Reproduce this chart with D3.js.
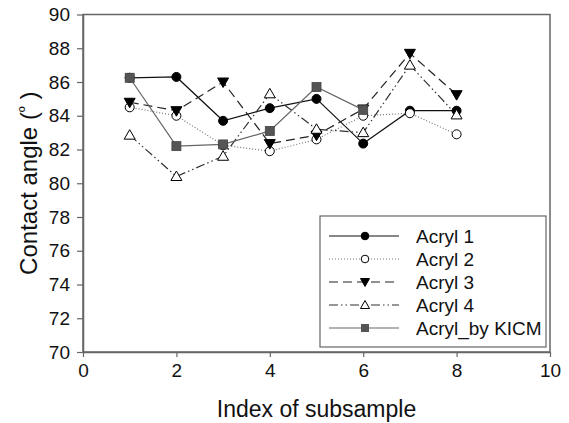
<!DOCTYPE html>
<html>
<head>
<meta charset="utf-8">
<script src="https://cdn.jsdelivr.net/npm/d3@7"></script>
<style>
  body { margin: 0; background: #fff; }
  text { font-family: "Liberation Sans", Arial, sans-serif; fill: #111; }
</style>
</head>
<body>
<svg id="chart" width="569" height="423"></svg>
<script>
// values
var acryl1 = [[1, 86.25], [2, 86.3], [3, 83.7], [4, 84.45], [5, 85.0], [6, 82.35], [7, 84.3], [8, 84.3]]
var acryl2 = [[1, 84.5], [2, 84.0], [3, 82.25], [4, 81.9], [5, 82.6], [6, 84.0], [7, 84.15], [8, 82.9]]
var acryl3 = [[1, 84.8], [2, 84.3], [3, 86.0], [4, 82.35], [5, 82.85], [6, 84.4], [7, 87.7], [8, 85.25]]
var acryl4 = [[1, 82.85], [2, 80.4], [3, 81.6], [4, 85.3], [5, 83.2], [6, 83.0], [7, 87.0], [8, 84.05]]
var kicm = [[1, 86.25], [2, 82.2], [3, 82.3], [4, 83.1], [5, 85.7], [6, 84.35]]

var xTicks = [0, 2, 4, 6, 8, 10]
var yTicks = [70, 72, 74, 76, 78, 80, 82, 84, 86, 88, 90]

var series = [
  {name: 'Acryl 1', data: acryl1, stroke: '#111', dash: null, marker: 'circle', fill: '#000'},
  {name: 'Acryl 2', data: acryl2, stroke: '#777', dash: '1,2', marker: 'circle', fill: '#fff'},
  {name: 'Acryl 3', data: acryl3, stroke: '#222', dash: '9,5', marker: 'down', fill: '#000'},
  {name: 'Acryl 4', data: acryl4, stroke: '#333', dash: '9,3,1.5,3,1.5,3', marker: 'up', fill: '#fff'},
  {name: 'Acryl_by KICM', data: kicm, stroke: '#666', dash: null, marker: 'square', fill: '#555'}
]

var svg = d3.select('#chart')
var plotL = 83, plotR = 550, plotT = 14.5, plotB = 352

var x = d3.scaleLinear().domain([0, 10]).range([plotL, plotR])
var y = d3.scaleLinear().domain([70, 90]).range([plotB, plotT])

var axisColor = '#666'

// frame
svg.append('rect')
  .attr('x', plotL).attr('y', plotT)
  .attr('width', plotR - plotL).attr('height', plotB - plotT)
  .attr('fill', 'none').attr('stroke', axisColor).attr('stroke-width', 1.5)

var xAxis = svg.append('g')
  .attr('transform', 'translate(0,' + plotB + ')')
  .call(d3.axisBottom(x).tickValues(xTicks).tickSizeInner(5).tickSizeOuter(0).tickPadding(7))
xAxis.select('.domain').attr('stroke', axisColor).attr('stroke-width', 1.5)
xAxis.selectAll('line').attr('stroke', axisColor).attr('stroke-width', 1.2)
xAxis.selectAll('text').style('font-size', '19px').attr('fill', '#111')

var yAxis = svg.append('g')
  .attr('transform', 'translate(' + plotL + ',0)')
  .call(d3.axisLeft(y).tickValues(yTicks).tickSizeInner(6).tickSizeOuter(0).tickPadding(7))
yAxis.select('.domain').attr('stroke', axisColor).attr('stroke-width', 1.5)
yAxis.selectAll('line').attr('stroke', axisColor).attr('stroke-width', 1.2)
yAxis.selectAll('text').style('font-size', '19px').attr('fill', '#111')

// axis titles
svg.append('text')
  .attr('x', (plotL + plotR) / 2).attr('y', 417)
  .attr('text-anchor', 'middle')
  .style('font-size', '23px')
  .text('Index of subsample')

var yTitle = svg.append('text')
  .attr('transform', 'translate(37,' + ((plotT + plotB) / 2) + ') rotate(-90)')
  .attr('text-anchor', 'middle')
  .style('font-size', '24px')
yTitle.append('tspan').text('Contact angle (')
yTitle.append('tspan').attr('dy', -7).style('font-size', '16px').text('º')
yTitle.append('tspan').attr('dy', 7).text(' )')

function drawMarker(g, type, fill, cx, cy) {
  if (type === 'circle') {
    g.append('circle').attr('cx', cx).attr('cy', cy).attr('r', 4.5)
      .attr('fill', fill).attr('stroke', '#000').attr('stroke-width', 1)
  } else if (type === 'square') {
    g.append('rect').attr('x', cx - 4.5).attr('y', cy - 4.5).attr('width', 9).attr('height', 9)
      .attr('fill', fill).attr('stroke', '#444').attr('stroke-width', 0.8)
  } else {
    var s = type === 'up' ? -1 : 1
    var pts = [[cx, cy + s * 5.5], [cx - 5.5, cy - s * 4], [cx + 5.5, cy - s * 4]]
    g.append('path').attr('d', 'M' + pts.join('L') + 'Z')
      .attr('fill', fill).attr('stroke', '#000').attr('stroke-width', 1)
  }
}

var line = d3.line().x(d => x(d[0])).y(d => y(d[1]))

series.forEach(function(s) {
  svg.append('path')
    .attr('d', line(s.data))
    .attr('fill', 'none')
    .attr('stroke', s.stroke)
    .attr('stroke-width', 1.2)
    .attr('stroke-dasharray', s.dash)
})
series.forEach(function(s) {
  var g = svg.append('g')
  s.data.forEach(function(d) { drawMarker(g, s.marker, s.fill, x(d[0]), y(d[1])) })
})

// legend
var lg = svg.append('g')
lg.append('rect')
  .attr('x', 320).attr('y', 216).attr('width', 226).attr('height', 131)
  .attr('fill', '#fff').attr('stroke', axisColor).attr('stroke-width', 1.2)

series.forEach(function(s, i) {
  var ry = 236 + i * 23
  lg.append('line')
    .attr('x1', 329).attr('x2', 399).attr('y1', ry).attr('y2', ry)
    .attr('stroke', s.stroke).attr('stroke-width', 1.2)
    .attr('stroke-dasharray', s.dash)
  var mg = lg.append('g')
  if (s.marker === 'circle') {
    mg.append('circle').attr('cx', 365).attr('cy', ry).attr('r', 3.8)
      .attr('fill', s.fill).attr('stroke', '#000')
  } else if (s.marker === 'square') {
    mg.append('rect').attr('x', 361).attr('y', ry - 4).attr('width', 8).attr('height', 8)
      .attr('fill', s.fill)
  } else {
    var k = s.marker === 'up' ? -1 : 1
    mg.append('path')
      .attr('d', 'M365,' + (ry + k * 4.5) + 'L360.5,' + (ry - k * 3.5) + 'L369.5,' + (ry - k * 3.5) + 'Z')
      .attr('fill', s.fill).attr('stroke', '#000')
  }
  lg.append('text')
    .attr('x', 416).attr('y', ry)
    .attr('dy', '0.36em')
    .style('font-size', '19px')
    .text(s.name)
})
</script>
</body>
</html>
